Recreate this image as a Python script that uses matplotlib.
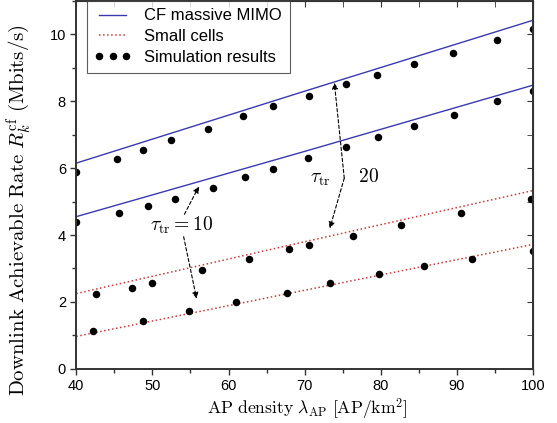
import matplotlib
matplotlib.use("Agg")
import matplotlib.pyplot as plt
from matplotlib.lines import Line2D
from matplotlib.ticker import MultipleLocator

# analytical curves (read at AP density 40, 70, 100)
line_x = [40, 70, 100]
cf_hi_line = [6.15, 8.3, 10.42]
cf_lo_line = [4.55, 6.5, 8.48]
sc_hi_line = [2.25, 3.8, 5.33]
sc_lo_line = [0.97, 2.35, 3.72]

# simulation points
cf_hi_x = [40, 45.3, 48.8, 52.5, 57.3, 61.9, 65.9, 70.6, 75.4, 79.5, 84.3, 89.5, 95.3, 100]
cf_hi_y = [5.87, 6.27, 6.55, 6.84, 7.18, 7.57, 7.85, 8.17, 8.5, 8.79, 9.1, 9.43, 9.82, 10.17]
cf_lo_x = [40, 45.6, 49.4, 53, 57.9, 62.1, 65.8, 70.5, 75.4, 79.6, 84.4, 89.6, 95.3, 100]
cf_lo_y = [4.38, 4.66, 4.88, 5.08, 5.41, 5.74, 5.97, 6.29, 6.62, 6.92, 7.26, 7.58, 8.0, 8.32]
sc_hi_x = [42.6, 47.3, 49.9, 56.5, 62.7, 68, 70.6, 76.4, 82.7, 90.5, 99.7]
sc_hi_y = [2.25, 2.43, 2.58, 2.95, 3.29, 3.57, 3.71, 3.98, 4.31, 4.67, 5.08]
sc_lo_x = [42.2, 48.7, 54.8, 61, 67.7, 73.3, 79.7, 85.7, 92, 100]
sc_lo_y = [1.14, 1.43, 1.73, 2.0, 2.28, 2.57, 2.85, 3.07, 3.27, 3.52]

plt.rcParams['mathtext.fontset'] = 'cm'
plt.rcParams['font.family'] = 'Liberation Sans'

blue = '#3a3ab0'
red = '#c83c3c'
edge = '#333333'


def main():
	fig = plt.figure(figsize=(5.57, 4.23), dpi=100)
	ax = fig.add_axes([0.137, 0.128, 0.82, 0.87])

	ax.plot(line_x, cf_hi_line, color=blue, lw=1.0)
	ax.plot(line_x, cf_lo_line, color=blue, lw=1.0)
	ax.plot(line_x, sc_hi_line, color=red, lw=1.1, ls=':')
	ax.plot(line_x, sc_lo_line, color=red, lw=1.1, ls=':')
	for xs, ys in [(cf_hi_x, cf_hi_y), (cf_lo_x, cf_lo_y), (sc_hi_x, sc_hi_y), (sc_lo_x, sc_lo_y)]:
		ax.plot(xs, ys, 'o', color='k', ms=4.4, ls='none')

	ax.set_xlim(40, 100)
	ax.set_ylim(0, 11)
	ax.xaxis.set_major_locator(MultipleLocator(10))
	ax.xaxis.set_minor_locator(MultipleLocator(5))
	ax.yaxis.set_major_locator(MultipleLocator(2))
	ax.yaxis.set_minor_locator(MultipleLocator(1))
	ax.tick_params(which='both', direction='out', labelsize=10.5, color=edge, width=1.0)
	ax.tick_params(which='major', length=4)
	ax.tick_params(which='minor', length=3)
	for s in ax.spines.values():
		s.set_color(edge)
		s.set_linewidth(1.4)

	top = ax.secondary_xaxis('top')
	top.xaxis.set_major_locator(MultipleLocator(10))
	top.xaxis.set_minor_locator(MultipleLocator(5))
	top.tick_params(which='both', direction='in', labeltop=False, color=edge, length=4)
	right = ax.secondary_yaxis('right')
	right.yaxis.set_major_locator(MultipleLocator(2))
	right.yaxis.set_minor_locator(MultipleLocator(1))
	right.tick_params(which='both', direction='in', labelright=False, color=edge, length=4)

	ax.set_xlabel(r'$\mathrm{AP\ density}\ \lambda_{\mathrm{AP}}\ [\mathrm{AP/km}^2]$', fontsize=12.7)
	ax.xaxis.set_label_coords(0.507, -0.075)
	ax.set_ylabel(r'$\mathrm{Downlink\ Achievable\ Rate}\ R_k^{\mathrm{cf}}\ \mathrm{(Mbits/s)}$', fontsize=15)
	ax.yaxis.set_label_coords(-0.095, 0.43)

	# annotations
	arr = dict(arrowstyle='-|>', color='k', lw=0.8, ls=(0, (3, 2)), mutation_scale=9, shrinkA=0, shrinkB=0)
	ax.text(53.8, 4.29, r'$\tau_{\mathrm{tr}} = 10$', fontsize=14, ha='center', va='center')
	ax.annotate('', xy=(56.1, 5.45), xytext=(54.2, 4.62), arrowprops=arr)
	ax.annotate('', xy=(55.8, 2.1), xytext=(54.1, 3.95), arrowprops=arr)
	ax.text(75.3, 5.71, r'$\tau_{\mathrm{tr}}\ \ \ \ \ 20$', fontsize=14, ha='center', va='center')
	ax.annotate('', xy=(73.9, 8.55), xytext=(75.2, 5.7), arrowprops=arr)
	ax.annotate('', xy=(73.3, 4.2), xytext=(75.2, 5.7), arrowprops=arr)

	handles = [
		Line2D([], [], color=blue, lw=1.0),
		Line2D([], [], color=red, lw=1.1, ls=':'),
		Line2D([], [], color='k', marker='o', ms=4.4, ls='none'),
	]
	labels = ['CF massive MIMO', 'Small cells', 'Simulation results']
	leg = ax.legend(handles, labels, loc='upper left', bbox_to_anchor=(0.023, 1.0), numpoints=3,
		fontsize=12, frameon=True, fancybox=False, borderaxespad=0, handlelength=2.2,
		handletextpad=0.8, labelspacing=0.35, borderpad=0.45)
	leg.get_frame().set_edgecolor(edge)
	leg.get_frame().set_linewidth(0.8)

	fig.savefig('out.png', dpi=100)


if __name__ == '__main__':
	main()
